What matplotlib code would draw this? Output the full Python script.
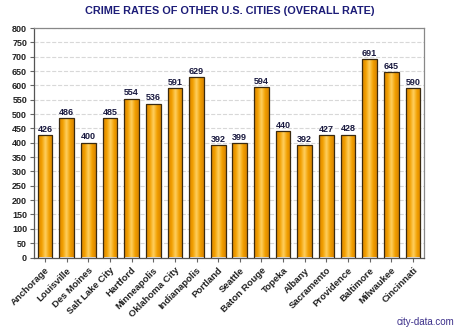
import matplotlib
matplotlib.use("Agg")
import matplotlib.pyplot as plt
import numpy as np
from matplotlib.colors import LinearSegmentedColormap

cities = ["Anchorage", "Louisville", "Des Moines", "Salt Lake City", "Hartford",
          "Minneapolis", "Oklahoma City", "Indianapolis", "Portland", "Seattle",
          "Baton Rouge", "Topeka", "Albany", "Sacramento", "Providence",
          "Baltimore", "Milwaukee", "Cincinnati"]
rates = [426, 486, 400, 485, 554, 536, 591, 629, 392, 399, 594, 440, 392, 427,
         428, 691, 645, 590]
yticks = list(range(0, 801, 50))

plt.rcParams['font.family'] = ['Liberation Sans', 'DejaVu Sans']

fig = plt.figure(figsize=(4.6, 3.28), dpi=100)
ax = fig.add_axes([34/460, 1-257.5/328, 390/460, 229.5/328])

n = len(cities)
x = np.arange(n)
width = 0.68
cmap = LinearSegmentedColormap.from_list("g", ["#d98400", "#f2a000", "#ffcf60", "#f2a000", "#d98400"])
grad = np.linspace(0, 1, 64).reshape(1, -1)

bars = ax.bar(x, rates, width=width, color="none", edgecolor="#3a2a10", linewidth=0.9, zorder=3)
for b in bars:
    x0, y0 = b.get_x(), b.get_y()
    w, h = b.get_width(), b.get_height()
    im = ax.imshow(grad, cmap=cmap, aspect="auto", extent=[x0, x0 + w, y0, y0 + h],
                   zorder=2, interpolation="bilinear")
    im.set_clip_path(b)

for xi, v in zip(x, rates):
    ax.text(xi, v + 5, str(v), ha="center", va="bottom", fontsize=6.5,
            fontweight="bold", color="#1a1a40")

ax.set_xlim(-0.51, n - 1 + 0.51)
ax.set_ylim(0, 800)
ax.set_yticks(yticks)
ax.set_yticklabels([str(t) for t in yticks], fontsize=6.5, fontweight="bold", color="#222222")
ax.set_xticks(x)
ax.set_xticklabels(cities, rotation=45, ha="right", rotation_mode="anchor",
                   fontsize=6.8, fontweight="bold", color="#222222")
ax.tick_params(axis="both", length=3, width=0.8, color="#666666", pad=2)
ax.tick_params(axis="x", pad=3)
ax.grid(axis="y", color="#d8d8d8", linestyle="--", linewidth=0.8, zorder=0)
ax.set_axisbelow(True)
for s in ax.spines.values():
    s.set_color("#888888")
    s.set_linewidth(0.9)
ax.spines["left"].set_color("#555555")
ax.spines["bottom"].set_color("#555555")

fig.text(230/460, 1-11/328, "CRIME RATES OF OTHER U.S. CITIES (OVERALL RATE)",
         ha="center", va="center", fontsize=7.8, fontweight="bold", color="#1c1c78")
fig.text(454/460, 1-322/328, "city-data.com", ha="right", va="center",
         fontsize=7, color="#3c2f8a")

fig.savefig("out.png", dpi=100)
